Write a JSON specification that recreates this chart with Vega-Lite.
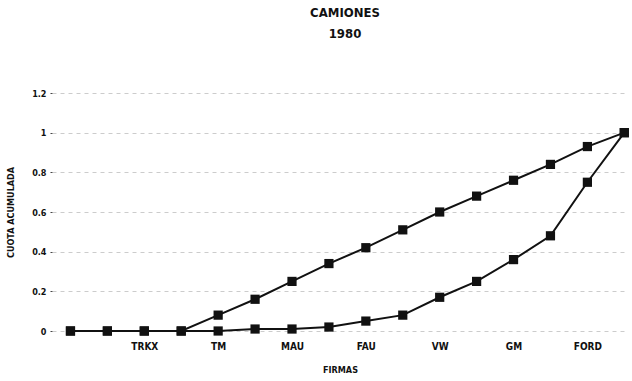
{
  "$schema": "https://vega.github.io/schema/vega-lite/v6.json",
  "autosize": "none",
  "width": 576,
  "height": 238,
  "padding": {"left": 52, "top": 93, "right": 4, "bottom": 50},
  "background": "white",
  "config": {
    "font": "Liberation Sans Narrow, DejaVu Sans Condensed, Liberation Sans, sans-serif",
    "view": {"stroke": null}
  },
  "title": {
    "text": ["CAMIONES", "1980"],
    "font": "Liberation Sans Narrow, DejaVu Sans Condensed, Liberation Sans, sans-serif",
    "fontSize": 13,
    "fontWeight": "bold",
    "lineHeight": 21,
    "color": "#111",
    "anchor": "middle",
    "dx": 5,
    "offset": 48
  },
  "data": {
    "values": [
      {"i": 0, "serie": "A", "v": 0}, {"i": 1, "serie": "A", "v": 0}, {"i": 2, "serie": "A", "v": 0}, {"i": 3, "serie": "A", "v": 0},
      {"i": 4, "serie": "A", "v": 0.08}, {"i": 5, "serie": "A", "v": 0.16}, {"i": 6, "serie": "A", "v": 0.25}, {"i": 7, "serie": "A", "v": 0.34},
      {"i": 8, "serie": "A", "v": 0.42}, {"i": 9, "serie": "A", "v": 0.51}, {"i": 10, "serie": "A", "v": 0.6}, {"i": 11, "serie": "A", "v": 0.68},
      {"i": 12, "serie": "A", "v": 0.76}, {"i": 13, "serie": "A", "v": 0.84}, {"i": 14, "serie": "A", "v": 0.93}, {"i": 15, "serie": "A", "v": 1.0},
      {"i": 0, "serie": "B", "v": 0}, {"i": 1, "serie": "B", "v": 0}, {"i": 2, "serie": "B", "v": 0}, {"i": 3, "serie": "B", "v": 0},
      {"i": 4, "serie": "B", "v": 0}, {"i": 5, "serie": "B", "v": 0.01}, {"i": 6, "serie": "B", "v": 0.01}, {"i": 7, "serie": "B", "v": 0.02},
      {"i": 8, "serie": "B", "v": 0.05}, {"i": 9, "serie": "B", "v": 0.08}, {"i": 10, "serie": "B", "v": 0.17}, {"i": 11, "serie": "B", "v": 0.25},
      {"i": 12, "serie": "B", "v": 0.36}, {"i": 13, "serie": "B", "v": 0.48}, {"i": 14, "serie": "B", "v": 0.75}, {"i": 15, "serie": "B", "v": 1.0}
    ]
  },
  "encoding": {
    "x": {
      "field": "i",
      "type": "quantitative",
      "scale": {"domain": [-0.5, 15.1], "nice": false, "zero": false},
      "axis": {
        "title": "FIRMAS",
        "titleFontSize": 9,
        "titleFontWeight": "bold",
        "titleColor": "#111",
        "titlePadding": 14,
        "values": [2, 4, 6, 8, 10, 12, 14],
        "labelExpr": "({'2':'TRKX','4':'TM','6':'MAU','8':'FAU','10':'VW','12':'GM','14':'FORD'})[datum.value]",
        "labelFontSize": 10,
        "labelFontWeight": "bold",
        "labelColor": "#111",
        "labelPadding": 10,
        "domain": false,
        "ticks": false,
        "grid": false
      }
    },
    "y": {
      "field": "v",
      "type": "quantitative",
      "scale": {"domain": [0, 1.2], "nice": false},
      "axis": {
        "title": "CUOTA ACUMULADA",
        "titleFontSize": 9,
        "titleFontWeight": "bold",
        "titleColor": "#111",
        "titlePadding": 16,
        "values": [0, 0.2, 0.4, 0.6, 0.8, 1, 1.2],
        "format": ".1~f",
        "labelFontSize": 9,
        "labelFontWeight": "bold",
        "labelColor": "#111",
        "labelPadding": 4,
        "domain": false,
        "ticks": true,
        "tickSize": 2,
        "tickColor": "#444",
        "grid": true,
        "gridColor": "#cccccc",
        "gridDash": [4, 4],
        "gridWidth": 1
      }
    },
    "detail": {"field": "serie", "type": "nominal"}
  },
  "layer": [
    {"mark": {"type": "line", "color": "#111", "strokeWidth": 2}},
    {"mark": {"type": "point", "shape": "square", "filled": true, "color": "#111", "size": 85, "opacity": 1}}
  ]
}
